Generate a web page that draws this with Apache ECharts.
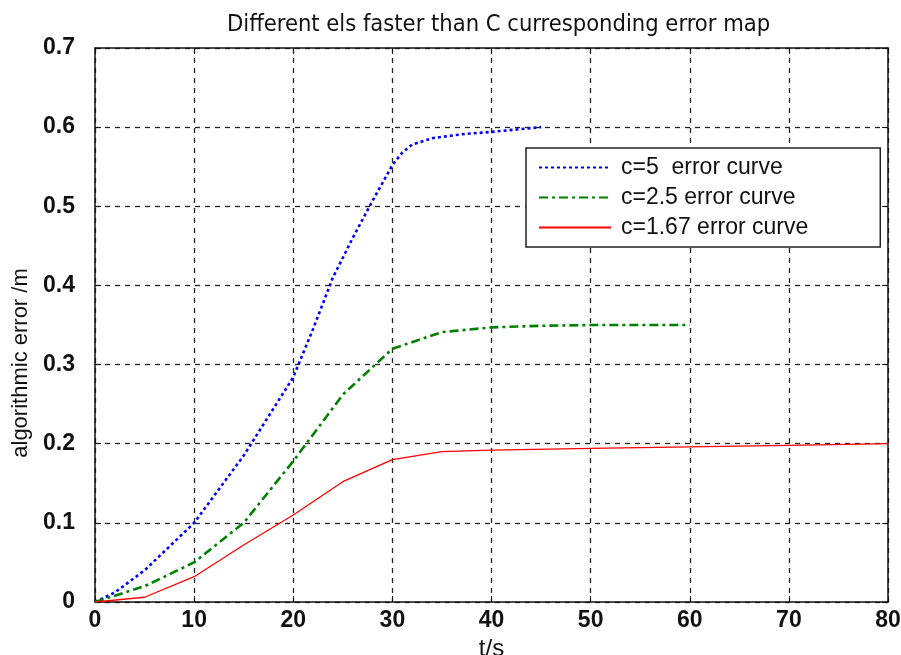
<!DOCTYPE html>
<html>
<head>
<meta charset="utf-8">
<script src="https://cdn.jsdelivr.net/npm/echarts@6/dist/echarts.min.js"></script>
<style>
    html, body {margin: 0; padding: 0; background: #fff;}
    #chart_1 {width: 901px; height: 655px;}
</style>
</head>
<body>
<div id="chart_1"></div>
<script>
// t/s sample points and error values
var tBlue = [0, 2, 5, 10, 15, 20, 22, 24, 26, 28, 30, 31, 32, 34, 37, 40, 45];
var errBlue = [0, 0.012, 0.04, 0.1, 0.185, 0.284, 0.345, 0.41, 0.46, 0.507, 0.552, 0.568, 0.578, 0.586, 0.591, 0.594, 0.6];

var tGreen = [0, 5, 10, 15, 20, 25, 30, 35, 40, 45, 50, 60];
var errGreen = [0, 0.02, 0.05, 0.1, 0.178, 0.262, 0.32, 0.341, 0.347, 0.349, 0.35, 0.35];

var tRed = [0, 5, 10, 15, 20, 25, 30, 35, 40, 50, 60, 70, 80];
var errRed = [0, 0.006, 0.032, 0.072, 0.11, 0.152, 0.18, 0.19, 0.192, 0.194, 0.196, 0.198, 0.2];

var seriesNames = ['c=5  error curve', 'c=2.5 error curve', 'c=1.67 error curve'];

function pairs(xs, ys) {
    var d = [];
    for (var i = 0; i < xs.length; i++) {
        d.push([xs[i], ys[i]]);
    }
    return d;
}

var labelFont = 'Liberation Sans';
var gridLine = {show: true, lineStyle: {color: '#222', type: [5, 5], width: 1.3}};

var myChart = echarts.init(document.getElementById('chart_1'));
var option = {
    backgroundColor: '#fff',
    animation: false,
    title: {
        text: 'Different els faster than C curresponding error map',
        left: 222,
        top: 8,
        textStyle: {
            fontFamily: 'DejaVu Sans Condensed',
            fontSize: 23.5,
            fontWeight: 'normal',
            color: '#111'
        }
    },
    grid: {
        left: 95,
        right: 13,
        top: 48,
        bottom: 53,
        containLabel: false,
        outerBoundsMode: 'none'
    },
    legend: {
        left: 526,
        top: 148,
        orient: 'vertical',
        itemWidth: 72,
        itemHeight: 16,
        itemGap: 7,
        padding: [8, 72, 8, 12],
        borderColor: '#222',
        borderWidth: 1.5,
        backgroundColor: '#fff',
        itemStyle: {opacity: 0},
        textStyle: {
            fontFamily: labelFont,
            fontSize: 23,
            lineHeight: 16,
            color: '#111',
            padding: [0, 0, 0, 5]
        },
        data: seriesNames
    },
    xAxis: [
        {
            type: 'value',
            min: 0,
            max: 80,
            interval: 10,
            name: 't/s',
            nameLocation: 'middle',
            nameGap: 28,
            nameTextStyle: {fontFamily: labelFont, fontSize: 24, color: '#111'},
            axisLine: {show: true, onZero: false, lineStyle: {color: '#111', width: 1.5}},
            axisTick: {show: true, inside: true, length: 6, lineStyle: {color: '#111'}},
            axisLabel: {fontFamily: labelFont, fontSize: 23, fontWeight: 'bold', color: '#111', margin: 7},
            splitLine: gridLine
        },
        {
            type: 'value',
            position: 'top',
            min: 0,
            max: 80,
            interval: 10,
            axisLine: {show: true, onZero: false, lineStyle: {color: '#111', width: 1.5}},
            axisTick: {show: true, inside: true, length: 6, lineStyle: {color: '#111'}},
            axisLabel: {show: false},
            splitLine: {show: false}
        }
    ],
    yAxis: [
        {
            type: 'value',
            min: 0,
            max: 0.7,
            interval: 0.1,
            name: 'algorithmic error /m',
            nameLocation: 'middle',
            nameGap: 63,
            nameTextStyle: {fontFamily: labelFont, fontSize: 22, color: '#111', padding: [0, 76, 0, 0]},
            axisLine: {show: true, onZero: false, lineStyle: {color: '#111', width: 1.5}},
            axisTick: {show: true, inside: true, length: 6, lineStyle: {color: '#111'}},
            axisLabel: {fontFamily: labelFont, fontSize: 23, fontWeight: 'bold', color: '#111', margin: 20,
                formatter: function (v) { return v === 0 ? '0' : v.toFixed(1); }},
            splitLine: gridLine
        },
        {
            type: 'value',
            position: 'right',
            min: 0,
            max: 0.7,
            interval: 0.1,
            axisLine: {show: true, onZero: false, lineStyle: {color: '#111', width: 1.5}},
            axisTick: {show: true, inside: true, length: 6, lineStyle: {color: '#111'}},
            axisLabel: {show: false},
            splitLine: {show: false}
        }
    ],
    series: [
        {
            name: seriesNames[0],
            type: 'line',
            symbol: 'none',
            smooth: false,
            lineStyle: {color: '#0000ff', width: 2.6, type: [3, 3]},
            itemStyle: {color: '#0000ff'},
            data: pairs(tBlue, errBlue)
        },
        {
            name: seriesNames[1],
            type: 'line',
            symbol: 'none',
            smooth: false,
            lineStyle: {color: '#008000', width: 2.6, type: [9, 4, 3, 4]},
            itemStyle: {color: '#008000'},
            data: pairs(tGreen, errGreen)
        },
        {
            name: seriesNames[2],
            type: 'line',
            symbol: 'none',
            smooth: false,
            lineStyle: {color: '#ff0000', width: 1.3, type: 'solid'},
            itemStyle: {color: '#ff0000'},
            data: pairs(tRed, errRed)
        }
    ]
};

myChart.setOption(option);
</script>
</body>
</html>
